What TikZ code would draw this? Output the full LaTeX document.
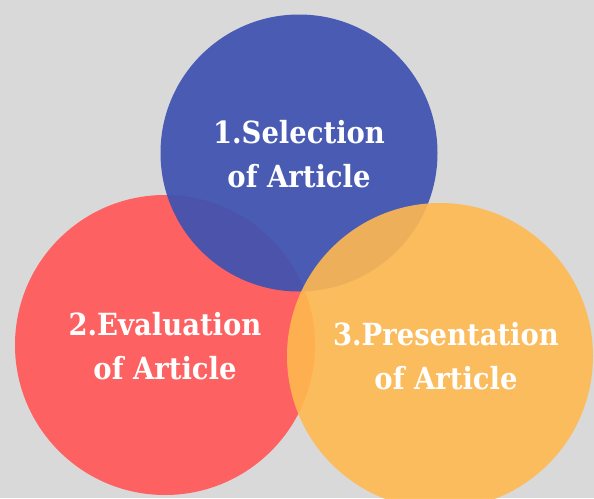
\documentclass[tikz,border=0pt]{standalone}
\usepackage{fontspec}
\setmainfont{DejaVu Serif Condensed}

\definecolor{bggray}{HTML}{D9D9D9}
\definecolor{selblue}{RGB}{63,82,177}
\definecolor{evalred}{RGB}{253,97,97}
\definecolor{presorange}{RGB}{255,185,80}

\tikzset{
    stage/.style={circle, inner sep=0pt},
    stagetext/.style={align=center, text=white, inner sep=0pt,
        font=\fontsize{30.5}{44}\selectfont\bfseries}
}

\begin{document}
\begin{tikzpicture}[x=1pt,y=-1pt]
    \fill[bggray] (0,0) rectangle (594,498);
    \useasboundingbox (0,0) rectangle (594,498);
    \node[stage, fill=evalred, minimum size=300pt] (eval) at (165,345) {};
    \node[stagetext] (evaltext) at ([yshift=-1pt]eval.center) {2.Evaluation\\of Article};
    \node[stage, fill=selblue, fill opacity=0.93, minimum size=277pt] (sel) at (299,153) {};
    \node[stagetext] (seltext) at ([yshift=-1pt]sel.center) {1.Selection\\of Article};
    \node[stage, fill=presorange, fill opacity=0.9, minimum size=306pt] (pres) at (440,356) {};
    \node[stagetext] (prestext) at ([xshift=6pt]pres.center) {3.Presentation\\of Article};
\end{tikzpicture}
\end{document}
